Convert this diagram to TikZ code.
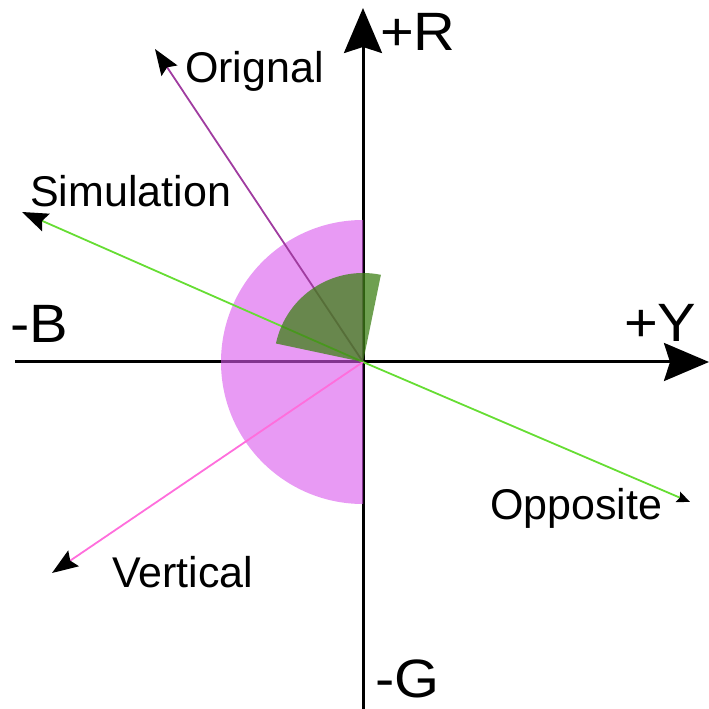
\documentclass[tikz,border=0pt]{standalone}
\usepackage{fontspec}
\setmainfont{Liberation Sans}
\usetikzlibrary{arrows.meta}
\definecolor{discpink}{RGB}{217,87,237}
\definecolor{sectgreen}{RGB}{62,128,22}
\definecolor{origline}{RGB}{160,60,160}
\definecolor{simline}{RGB}{102,221,51}
\definecolor{vertline}{RGB}{255,110,220}
\newcommand{\axtext}[1]{\scalebox{1.07}[1]{#1}}
\tikzset{
  axisline/.style={line width=3pt, -{Stealth[length=45pt,width=38pt,inset=6pt]}},
  vecline/.style={line width=1.8pt, -{Stealth[black,length=26pt,width=19pt,inset=4pt]}},
  smallvec/.style={line width=1.8pt, -{Stealth[black,length=13pt,width=11pt,inset=2pt]}},
  biglabel/.style={inner sep=0pt, anchor=base west, font=\fontsize{54}{64}\selectfont},
  smalllabel/.style={inner sep=0pt, anchor=base west, font=\fontsize{43}{52}\selectfont}
}
\begin{document}
\begin{tikzpicture}[x=1pt,y=1pt]
\useasboundingbox (0,0) rectangle (709,709);
\coordinate (O) at (363,347);
\coordinate (Bend) at (15,347);
\coordinate (Yend) at (709,347);
\coordinate (Gend) at (363,0);
\coordinate (Rend) at (363,701);
\coordinate (origtip) at (155,660);
\coordinate (simtip) at (22,497);
\coordinate (opptip) at (690,207);
\coordinate (verttip) at (52,136);
% axes
\draw[axisline] (Bend) -- (Yend);
\draw[axisline] (Gend) -- (Rend);
% pink disc
\fill[discpink, opacity=0.6] (O) -- ++(90:142) arc[start angle=90, end angle=270, radius=142] -- cycle;
% vectors
\draw[vecline, origline] (O) -- (origtip);
\draw[vecline, simline] (O) -- (simtip);
\draw[smallvec, simline] (O) -- (opptip);
\draw[vecline, vertline] (O) -- (verttip);
% green sector
\fill[sectgreen, opacity=0.75] (O) -- ++(78.4:89) arc[start angle=78.4, end angle=168, radius=89] -- cycle;
% labels
\node[biglabel] (lR) at (380,658) {\axtext{+R}};
\node[biglabel] (lB) at (10,366) {\axtext{-B}};
\node[biglabel] (lY) at (624,367) {\axtext{+Y}};
\node[biglabel] (lG) at (375,12) {\axtext{-G}};
\node[smalllabel] (lO) at (185,626) {Orignal};
\node[smalllabel] (lS) at (30,502) {Simulation};
\node[smalllabel] (lP) at (490,189) {Opposite};
\node[smalllabel] (lV) at (112,121) {Vertical};
\end{tikzpicture}
\end{document}
